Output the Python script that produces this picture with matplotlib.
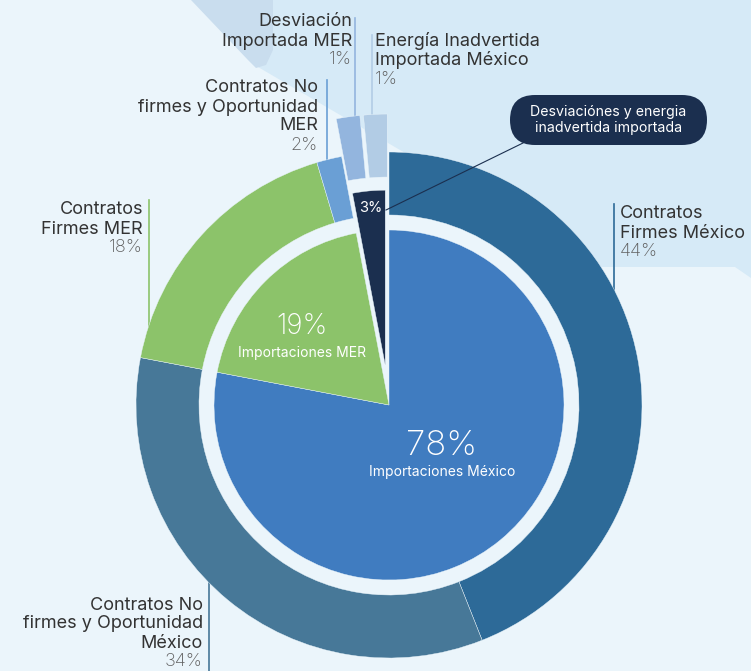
import numpy as np
import matplotlib.pyplot as plt
from matplotlib.patches import Polygon, Circle, FancyBboxPatch

plt.rcParams['font.family'] = ['Inter', 'DejaVu Sans']

outer_names = ["Contratos\nFirmes México",
               "Contratos No\nfirmes y Oportunidad\nMéxico",
               "Contratos\nFirmes MER",
               "Contratos No\nfirmes y Oportunidad\nMER",
               "Desviación\nImportada MER",
               "Energía Inadvertida\nImportada México"]
outer_pct = ["44%", "34%", "18%", "2%", "1%", "1%"]
outer_sizes = [44, 34, 17.4, 1.6, 1.5, 1.5]
outer_colors = ["#2d6a98", "#477898", "#8cc36a", "#6a9fd5", "#93b5de", "#b2cce5"]

# inner pie: import origin
inner_names = ["Importaciones México", "Importaciones MER", ""]
inner_pct = ["78%", "19%", "3%"]
inner_sizes = [78, 19, 3]
inner_colors = ["#407cc0", "#8cc36a", "#1b2f4f"]

callout_text = "Desviaciónes y energia\ninadvertida importada"

BG = "#ebf5fb"
W, H = 751, 671
cx, cy = 389, 405  # pie centre in pixel coords (y from top)


def Y(y):
    return H - y


fig = plt.figure(figsize=(W / 100, H / 100), dpi=100, facecolor=BG)
ax = fig.add_axes([0, 0, 1, 1])
ax.set_facecolor(BG)

# background decoration
ax.add_patch(Polygon([(193, Y(0)), (258, Y(67)), (335, Y(112)), (400, Y(150)),
                      (560, Y(240)), (600, Y(267)), (735, Y(267)), (751, Y(278)),
                      (751, Y(0))], closed=True, fc="#d6eaf7", ec="none", zorder=0))
ax.add_patch(Polygon([(191, Y(0)), (273, Y(0)), (273, Y(50)), (266, Y(65)),
                      (256, Y(68)), (248, Y(60))], closed=True, fc="#c9ddee",
                     ec="none", zorder=0.5))
ax.add_patch(Circle((cx, Y(cy)), 200, fc=BG, ec="none", zorder=0.6))

# outer ring
R_out, ring_w = 253, 63
ax.pie(outer_sizes, colors=outer_colors, radius=R_out, center=(cx, Y(cy)),
       startangle=90, counterclock=False, explode=[0, 0, 0, 0, 38, 38],
       wedgeprops=dict(width=ring_w, edgecolor=BG, linewidth=0.3))

# inner pie
R_in = 175
ax.pie(inner_sizes, colors=inner_colors, radius=R_in, center=(cx, Y(cy)),
       startangle=90, counterclock=False, explode=[0, 0, 40],
       wedgeprops=dict(edgecolor=BG, linewidth=0.3))

for p in ax.patches:
    if p.get_zorder() == 1:
        p.set_zorder(2)

ax.set_xlim(0, W)
ax.set_ylim(0, H)
ax.set_aspect('equal')
ax.axis('off')

# outer labels: (x, first line centre, align, leader x, leader y0, leader y1)
label_pos = [(620, 214, 'left', 614, 204, 300),
             (203, 605, 'right', 209, 580, 671),
             (143, 210, 'right', 149, 200, 335),
             (318, 88, 'right', 327, 80, 170),
             (352, 22, 'right', 355, 18, 120),
             (375, 41, 'left', 372, 35, 120)]
step = 19
for name, pct, col, (tx, ty, ha, lx, ly0, ly1) in zip(outer_names, outer_pct,
                                                       outer_colors, label_pos):
    ax.plot([lx, lx], [Y(ly0), Y(ly1)], color=col, lw=1.2, zorder=1.5)
    lines = name.split("\n")
    for i, ln in enumerate(lines):
        ax.text(tx, Y(ty + i * step), ln, ha=ha, va='center', fontsize=13,
                color="#333333", zorder=5)
    ax.text(tx, Y(ty + len(lines) * step), pct, ha=ha, va='center',
            fontsize=13, color="#5f5f5f", fontweight='light', zorder=5)

# inner labels
ax.text(442, Y(446), inner_pct[0], ha='center', va='center', fontsize=25,
        color='white', fontweight='light', zorder=5)
ax.text(442, Y(472), inner_names[0], ha='center', va='center', fontsize=10,
        color='white', zorder=5)
ax.text(302, Y(326), inner_pct[1], ha='center', va='center', fontsize=20,
        color='white', fontweight='light', zorder=5)
ax.text(302, Y(353), inner_names[1], ha='center', va='center', fontsize=10,
        color='white', zorder=5)
ax.text(371, Y(208), inner_pct[2], ha='center', va='center', fontsize=10.5,
        color='white', zorder=5)

# callout
ax.add_patch(FancyBboxPatch((510, Y(145)), 197, 50,
                            boxstyle="round,pad=0,rounding_size=25",
                            fc="#1b2f4f", ec="none", zorder=4))
ax.text(608.5, Y(120), callout_text, ha='center', va='center', fontsize=10.2,
        color='white', linespacing=1.2, zorder=5)
ax.plot([386, 523], [Y(210), Y(143)], color="#1b2f4f", lw=0.8, zorder=4)

fig.savefig("out.png", dpi=100, facecolor=BG)
